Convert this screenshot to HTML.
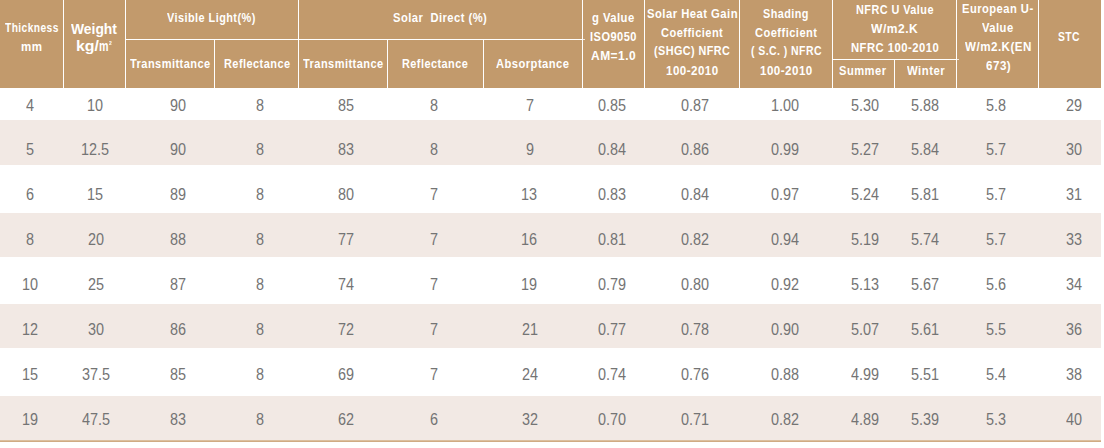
<!DOCTYPE html>
<html><head><meta charset="utf-8"><style>
html,body{margin:0;padding:0;background:#fff;width:1104px;height:448px;overflow:hidden;}
body{position:relative;font-family:"Liberation Sans",sans-serif;}
.c{position:absolute;background:#c29a6c;}
.r{position:absolute;left:0;width:1101px;background:#f2e9e4;}
.t{position:absolute;white-space:nowrap;color:#fff;font-weight:bold;transform-origin:0 0;}
.d{position:absolute;white-space:nowrap;color:#747474;font-size:16px;line-height:16px;transform-origin:0 0;}
</style></head><body>
<div class="c" style="left:0px;top:0px;width:63px;height:88px"></div>
<div class="c" style="left:64px;top:0px;width:61px;height:88px"></div>
<div class="c" style="left:126px;top:0px;width:172px;height:39px"></div>
<div class="c" style="left:126px;top:40px;width:88px;height:48px"></div>
<div class="c" style="left:215px;top:40px;width:83px;height:48px"></div>
<div class="c" style="left:299px;top:0px;width:283px;height:39px"></div>
<div class="c" style="left:299px;top:40px;width:88px;height:48px"></div>
<div class="c" style="left:388px;top:40px;width:95px;height:48px"></div>
<div class="c" style="left:484px;top:40px;width:98px;height:48px"></div>
<div class="c" style="left:583px;top:0px;width:61px;height:88px"></div>
<div class="c" style="left:645px;top:0px;width:94px;height:88px"></div>
<div class="c" style="left:740px;top:0px;width:92px;height:88px"></div>
<div class="c" style="left:833px;top:0px;width:123px;height:59px"></div>
<div class="c" style="left:833px;top:60px;width:61px;height:28px"></div>
<div class="c" style="left:895px;top:60px;width:61px;height:28px"></div>
<div class="c" style="left:957px;top:0px;width:81px;height:88px"></div>
<div class="c" style="left:1039px;top:0px;width:62px;height:88px"></div>
<div class="t" style="left:5.30px;top:21.70px;font-size:12px;line-height:12px;letter-spacing:0.5px;transform:scaleX(0.8508)">Thickness</div>
<div class="t" style="left:20.80px;top:40.60px;font-size:12px;line-height:12px;letter-spacing:0.5px;transform:scaleX(0.9636)">mm</div>
<div class="t" style="left:71.10px;top:21.80px;font-size:14px;line-height:14px;letter-spacing:0px;transform:scaleX(0.9894)">Weight</div>
<div class="t" style="left:76.26px;top:39.00px;font-size:14px;line-height:14px;letter-spacing:0px;transform:scaleX(1.1368)">kg/</div>
<div class="t" style="left:99.24px;top:39.00px;font-size:14px;line-height:14px;letter-spacing:0px;transform:scaleX(0.7636)">m</div>
<div class="t" style="left:108.60px;top:40.00px;font-size:6px;line-height:6px;letter-spacing:0px;transform:scaleX(0.8333)">2</div>
<div class="t" style="left:167.10px;top:12.10px;font-size:12px;line-height:12px;letter-spacing:0.5px;transform:scaleX(0.9072)">Visible Light(%)</div>
<div class="t" style="left:129.70px;top:57.60px;font-size:12px;line-height:12px;letter-spacing:0.5px;transform:scaleX(0.9172)">Transmittance</div>
<div class="t" style="left:223.60px;top:57.80px;font-size:12px;line-height:12px;letter-spacing:0.5px;transform:scaleX(0.9125)">Reflectance</div>
<div class="t" style="left:393.00px;top:11.70px;font-size:12px;line-height:12px;letter-spacing:0.5px;transform:scaleX(0.9317)">Solar&nbsp; Direct (%)</div>
<div class="t" style="left:302.70px;top:57.60px;font-size:12px;line-height:12px;letter-spacing:0.5px;transform:scaleX(0.9172)">Transmittance</div>
<div class="t" style="left:401.90px;top:57.80px;font-size:12px;line-height:12px;letter-spacing:0.5px;transform:scaleX(0.9083)">Reflectance</div>
<div class="t" style="left:495.70px;top:58.00px;font-size:12px;line-height:12px;letter-spacing:0.5px;transform:scaleX(0.9308)">Absorptance</div>
<div class="t" style="left:591.70px;top:11.70px;font-size:12px;line-height:12px;letter-spacing:0.5px;transform:scaleX(0.9378)">g Value</div>
<div class="t" style="left:590.40px;top:30.90px;font-size:12px;line-height:12px;letter-spacing:0.5px;transform:scaleX(0.9220)">ISO9050</div>
<div class="t" style="left:591.00px;top:49.60px;font-size:12px;line-height:12px;letter-spacing:0.5px;transform:scaleX(0.9978)">AM=1.0</div>
<div class="t" style="left:647.00px;top:7.70px;font-size:12px;line-height:12px;letter-spacing:0.5px;transform:scaleX(0.9396)">Solar Heat Gain</div>
<div class="t" style="left:660.70px;top:27.30px;font-size:12px;line-height:12px;letter-spacing:0.5px;transform:scaleX(0.9224)">Coefficient</div>
<div class="t" style="left:653.80px;top:45.30px;font-size:12px;line-height:12px;letter-spacing:0.5px;transform:scaleX(0.9000)">(SHGC) NFRC</div>
<div class="t" style="left:665.60px;top:64.60px;font-size:12px;line-height:12px;letter-spacing:0.5px;transform:scaleX(0.9630)">100-2010</div>
<div class="t" style="left:762.60px;top:7.70px;font-size:12px;line-height:12px;letter-spacing:0.5px;transform:scaleX(0.9040)">Shading</div>
<div class="t" style="left:754.70px;top:27.30px;font-size:12px;line-height:12px;letter-spacing:0.5px;transform:scaleX(0.9254)">Coefficient</div>
<div class="t" style="left:750.80px;top:45.30px;font-size:12px;line-height:12px;letter-spacing:0.5px;transform:scaleX(0.8741)">( S.C. ) NFRC</div>
<div class="t" style="left:759.70px;top:64.60px;font-size:12px;line-height:12px;letter-spacing:0.5px;transform:scaleX(0.9648)">100-2010</div>
<div class="t" style="left:856.20px;top:4.10px;font-size:12px;line-height:12px;letter-spacing:0.5px;transform:scaleX(0.9059)">NFRC U Value</div>
<div class="t" style="left:871.30px;top:23.00px;font-size:12px;line-height:12px;letter-spacing:0.5px;transform:scaleX(1.0043)">W/m2.K</div>
<div class="t" style="left:850.70px;top:41.50px;font-size:12px;line-height:12px;letter-spacing:0.5px;transform:scaleX(0.9398)">NFRC 100-2010</div>
<div class="t" style="left:838.90px;top:65.00px;font-size:12px;line-height:12px;letter-spacing:0.5px;transform:scaleX(0.9314)">Summer</div>
<div class="t" style="left:906.70px;top:65.00px;font-size:12px;line-height:12px;letter-spacing:0.5px;transform:scaleX(0.9475)">Winter</div>
<div class="t" style="left:961.90px;top:3.40px;font-size:12px;line-height:12px;letter-spacing:0.5px;transform:scaleX(0.9316)">European U-</div>
<div class="t" style="left:982.20px;top:21.80px;font-size:12px;line-height:12px;letter-spacing:0.5px;transform:scaleX(0.9333)">Value</div>
<div class="t" style="left:964.90px;top:40.70px;font-size:12px;line-height:12px;letter-spacing:0.5px;transform:scaleX(0.9676)">W/m2.K(EN</div>
<div class="t" style="left:985.50px;top:59.80px;font-size:12px;line-height:12px;letter-spacing:0.5px;transform:scaleX(0.9680)">673)</div>
<div class="t" style="left:1058.20px;top:31.30px;font-size:12px;line-height:12px;letter-spacing:0.5px;transform:scaleX(0.8640)">STC</div>
<div class="r" style="top:120px;height:45px"></div>
<div class="r" style="top:213px;height:44px"></div>
<div class="r" style="top:304px;height:44px"></div>
<div class="r" style="top:396px;height:44px"></div>
<div class="r" style="top:440px;height:1px;background:#dbbf9f"></div>
<div class="r" style="top:441px;height:1px;background:#d0ab83"></div>
<div class="c" style="left:583px;top:39px;width:2px;height:1px;background:#f3e8dc"></div>
<div class="c" style="left:957px;top:59px;width:2px;height:1px;background:#f3e8dc"></div>
<div class="d" style="left:26.15px;top:98.20px;transform:scaleX(0.9)">4</div>
<div class="d" style="left:87.20px;top:98.20px;transform:scaleX(0.9)">10</div>
<div class="d" style="left:169.90px;top:98.20px;transform:scaleX(0.9)">90</div>
<div class="d" style="left:255.95px;top:98.20px;transform:scaleX(0.9)">8</div>
<div class="d" style="left:337.50px;top:98.20px;transform:scaleX(0.9)">85</div>
<div class="d" style="left:430.15px;top:98.20px;transform:scaleX(0.9)">8</div>
<div class="d" style="left:525.55px;top:98.20px;transform:scaleX(0.9)">7</div>
<div class="d" style="left:597.65px;top:98.20px;transform:scaleX(0.9)">0.85</div>
<div class="d" style="left:680.55px;top:98.20px;transform:scaleX(0.9)">0.87</div>
<div class="d" style="left:770.80px;top:98.20px;transform:scaleX(0.9)">1.00</div>
<div class="d" style="left:851.00px;top:98.20px;transform:scaleX(0.9)">5.30</div>
<div class="d" style="left:910.50px;top:98.20px;transform:scaleX(0.9)">5.88</div>
<div class="d" style="left:986.15px;top:98.20px;transform:scaleX(0.9)">5.8</div>
<div class="d" style="left:1066.00px;top:98.20px;transform:scaleX(0.9)">29</div>
<div class="d" style="left:25.70px;top:142.00px;transform:scaleX(0.9)">5</div>
<div class="d" style="left:81.35px;top:142.00px;transform:scaleX(0.9)">12.5</div>
<div class="d" style="left:169.90px;top:142.00px;transform:scaleX(0.9)">90</div>
<div class="d" style="left:255.95px;top:142.00px;transform:scaleX(0.9)">8</div>
<div class="d" style="left:337.50px;top:142.00px;transform:scaleX(0.9)">83</div>
<div class="d" style="left:430.15px;top:142.00px;transform:scaleX(0.9)">8</div>
<div class="d" style="left:525.55px;top:142.00px;transform:scaleX(0.9)">9</div>
<div class="d" style="left:597.65px;top:142.00px;transform:scaleX(0.9)">0.84</div>
<div class="d" style="left:680.55px;top:142.00px;transform:scaleX(0.9)">0.86</div>
<div class="d" style="left:771.25px;top:142.00px;transform:scaleX(0.9)">0.99</div>
<div class="d" style="left:851.00px;top:142.00px;transform:scaleX(0.9)">5.27</div>
<div class="d" style="left:910.50px;top:142.00px;transform:scaleX(0.9)">5.84</div>
<div class="d" style="left:986.15px;top:142.00px;transform:scaleX(0.9)">5.7</div>
<div class="d" style="left:1066.00px;top:142.00px;transform:scaleX(0.9)">30</div>
<div class="d" style="left:26.15px;top:187.00px;transform:scaleX(0.9)">6</div>
<div class="d" style="left:87.20px;top:187.00px;transform:scaleX(0.9)">15</div>
<div class="d" style="left:169.90px;top:187.00px;transform:scaleX(0.9)">89</div>
<div class="d" style="left:255.95px;top:187.00px;transform:scaleX(0.9)">8</div>
<div class="d" style="left:337.50px;top:187.00px;transform:scaleX(0.9)">80</div>
<div class="d" style="left:430.15px;top:187.00px;transform:scaleX(0.9)">7</div>
<div class="d" style="left:521.05px;top:187.00px;transform:scaleX(0.9)">13</div>
<div class="d" style="left:597.65px;top:187.00px;transform:scaleX(0.9)">0.83</div>
<div class="d" style="left:680.55px;top:187.00px;transform:scaleX(0.9)">0.84</div>
<div class="d" style="left:771.25px;top:187.00px;transform:scaleX(0.9)">0.97</div>
<div class="d" style="left:851.00px;top:187.00px;transform:scaleX(0.9)">5.24</div>
<div class="d" style="left:910.50px;top:187.00px;transform:scaleX(0.9)">5.81</div>
<div class="d" style="left:986.15px;top:187.00px;transform:scaleX(0.9)">5.7</div>
<div class="d" style="left:1066.00px;top:187.00px;transform:scaleX(0.9)">31</div>
<div class="d" style="left:26.15px;top:232.00px;transform:scaleX(0.9)">8</div>
<div class="d" style="left:87.65px;top:232.00px;transform:scaleX(0.9)">20</div>
<div class="d" style="left:169.90px;top:232.00px;transform:scaleX(0.9)">88</div>
<div class="d" style="left:255.95px;top:232.00px;transform:scaleX(0.9)">8</div>
<div class="d" style="left:337.50px;top:232.00px;transform:scaleX(0.9)">77</div>
<div class="d" style="left:430.15px;top:232.00px;transform:scaleX(0.9)">7</div>
<div class="d" style="left:521.05px;top:232.00px;transform:scaleX(0.9)">16</div>
<div class="d" style="left:597.65px;top:232.00px;transform:scaleX(0.9)">0.81</div>
<div class="d" style="left:680.55px;top:232.00px;transform:scaleX(0.9)">0.82</div>
<div class="d" style="left:771.25px;top:232.00px;transform:scaleX(0.9)">0.94</div>
<div class="d" style="left:851.00px;top:232.00px;transform:scaleX(0.9)">5.19</div>
<div class="d" style="left:910.50px;top:232.00px;transform:scaleX(0.9)">5.74</div>
<div class="d" style="left:986.15px;top:232.00px;transform:scaleX(0.9)">5.7</div>
<div class="d" style="left:1066.00px;top:232.00px;transform:scaleX(0.9)">33</div>
<div class="d" style="left:21.65px;top:277.00px;transform:scaleX(0.9)">10</div>
<div class="d" style="left:87.65px;top:277.00px;transform:scaleX(0.9)">25</div>
<div class="d" style="left:169.90px;top:277.00px;transform:scaleX(0.9)">87</div>
<div class="d" style="left:255.95px;top:277.00px;transform:scaleX(0.9)">8</div>
<div class="d" style="left:337.50px;top:277.00px;transform:scaleX(0.9)">74</div>
<div class="d" style="left:430.15px;top:277.00px;transform:scaleX(0.9)">7</div>
<div class="d" style="left:521.05px;top:277.00px;transform:scaleX(0.9)">19</div>
<div class="d" style="left:597.65px;top:277.00px;transform:scaleX(0.9)">0.79</div>
<div class="d" style="left:680.55px;top:277.00px;transform:scaleX(0.9)">0.80</div>
<div class="d" style="left:771.25px;top:277.00px;transform:scaleX(0.9)">0.92</div>
<div class="d" style="left:851.00px;top:277.00px;transform:scaleX(0.9)">5.13</div>
<div class="d" style="left:910.50px;top:277.00px;transform:scaleX(0.9)">5.67</div>
<div class="d" style="left:986.15px;top:277.00px;transform:scaleX(0.9)">5.6</div>
<div class="d" style="left:1066.00px;top:277.00px;transform:scaleX(0.9)">34</div>
<div class="d" style="left:21.65px;top:322.00px;transform:scaleX(0.9)">12</div>
<div class="d" style="left:87.65px;top:322.00px;transform:scaleX(0.9)">30</div>
<div class="d" style="left:169.90px;top:322.00px;transform:scaleX(0.9)">86</div>
<div class="d" style="left:255.95px;top:322.00px;transform:scaleX(0.9)">8</div>
<div class="d" style="left:337.50px;top:322.00px;transform:scaleX(0.9)">72</div>
<div class="d" style="left:430.15px;top:322.00px;transform:scaleX(0.9)">7</div>
<div class="d" style="left:521.50px;top:322.00px;transform:scaleX(0.9)">21</div>
<div class="d" style="left:597.65px;top:322.00px;transform:scaleX(0.9)">0.77</div>
<div class="d" style="left:680.55px;top:322.00px;transform:scaleX(0.9)">0.78</div>
<div class="d" style="left:771.25px;top:322.00px;transform:scaleX(0.9)">0.90</div>
<div class="d" style="left:851.00px;top:322.00px;transform:scaleX(0.9)">5.07</div>
<div class="d" style="left:910.50px;top:322.00px;transform:scaleX(0.9)">5.61</div>
<div class="d" style="left:986.15px;top:322.00px;transform:scaleX(0.9)">5.5</div>
<div class="d" style="left:1066.00px;top:322.00px;transform:scaleX(0.9)">36</div>
<div class="d" style="left:21.65px;top:367.00px;transform:scaleX(0.9)">15</div>
<div class="d" style="left:81.80px;top:367.00px;transform:scaleX(0.9)">37.5</div>
<div class="d" style="left:169.90px;top:367.00px;transform:scaleX(0.9)">85</div>
<div class="d" style="left:255.95px;top:367.00px;transform:scaleX(0.9)">8</div>
<div class="d" style="left:337.50px;top:367.00px;transform:scaleX(0.9)">69</div>
<div class="d" style="left:430.15px;top:367.00px;transform:scaleX(0.9)">7</div>
<div class="d" style="left:521.50px;top:367.00px;transform:scaleX(0.9)">24</div>
<div class="d" style="left:597.65px;top:367.00px;transform:scaleX(0.9)">0.74</div>
<div class="d" style="left:680.55px;top:367.00px;transform:scaleX(0.9)">0.76</div>
<div class="d" style="left:771.25px;top:367.00px;transform:scaleX(0.9)">0.88</div>
<div class="d" style="left:851.45px;top:367.00px;transform:scaleX(0.9)">4.99</div>
<div class="d" style="left:910.50px;top:367.00px;transform:scaleX(0.9)">5.51</div>
<div class="d" style="left:986.15px;top:367.00px;transform:scaleX(0.9)">5.4</div>
<div class="d" style="left:1066.00px;top:367.00px;transform:scaleX(0.9)">38</div>
<div class="d" style="left:21.65px;top:412.00px;transform:scaleX(0.9)">19</div>
<div class="d" style="left:81.80px;top:412.00px;transform:scaleX(0.9)">47.5</div>
<div class="d" style="left:169.90px;top:412.00px;transform:scaleX(0.9)">83</div>
<div class="d" style="left:255.95px;top:412.00px;transform:scaleX(0.9)">8</div>
<div class="d" style="left:337.50px;top:412.00px;transform:scaleX(0.9)">62</div>
<div class="d" style="left:430.15px;top:412.00px;transform:scaleX(0.9)">6</div>
<div class="d" style="left:521.50px;top:412.00px;transform:scaleX(0.9)">32</div>
<div class="d" style="left:597.65px;top:412.00px;transform:scaleX(0.9)">0.70</div>
<div class="d" style="left:680.55px;top:412.00px;transform:scaleX(0.9)">0.71</div>
<div class="d" style="left:771.25px;top:412.00px;transform:scaleX(0.9)">0.82</div>
<div class="d" style="left:851.45px;top:412.00px;transform:scaleX(0.9)">4.89</div>
<div class="d" style="left:910.50px;top:412.00px;transform:scaleX(0.9)">5.39</div>
<div class="d" style="left:986.15px;top:412.00px;transform:scaleX(0.9)">5.3</div>
<div class="d" style="left:1066.00px;top:412.00px;transform:scaleX(0.9)">40</div>
</body></html>
